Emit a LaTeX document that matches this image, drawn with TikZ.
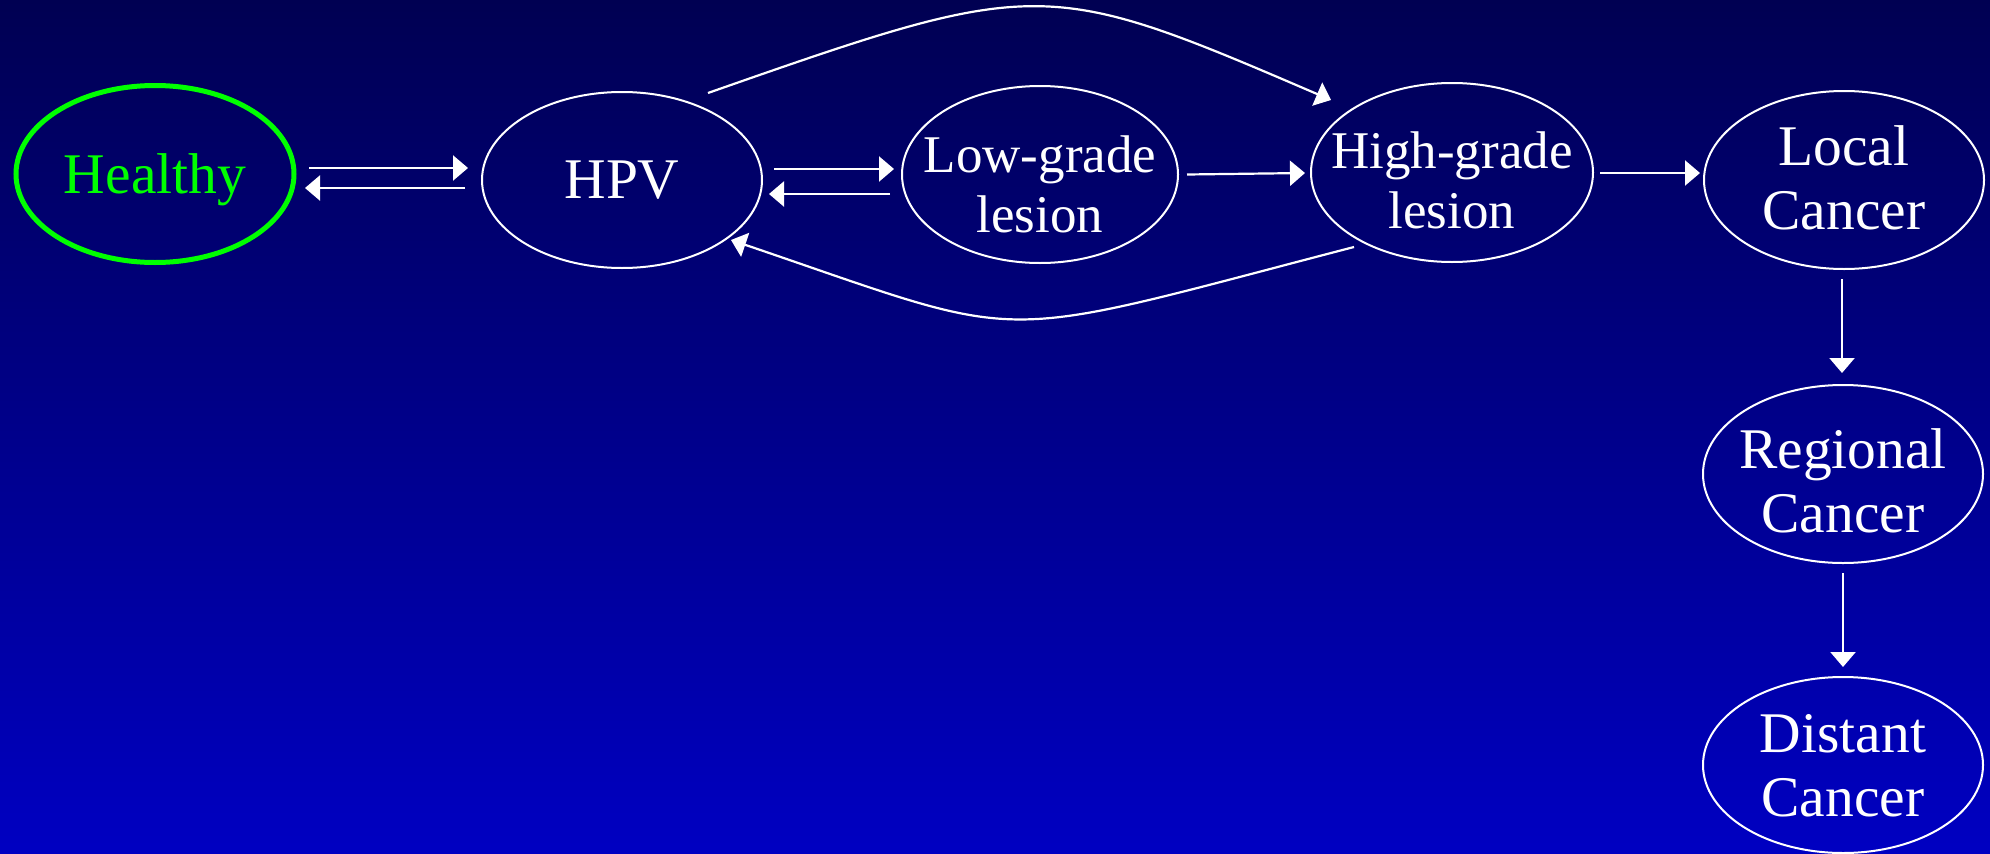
\documentclass[tikz,border=0pt]{standalone}
\usepackage{fontspec}
\setmainfont{Liberation Serif}
\usetikzlibrary{shapes.geometric,arrows.meta,calc}
\definecolor{bgtop}{RGB}{0,0,82}
\definecolor{bgmid}{RGB}{0,0,148}
\definecolor{bgbot}{RGB}{0,0,194}
\definecolor{hgreen}{RGB}{0,255,0}
\begin{document}
\begin{tikzpicture}[x=1pt,y=-1pt,
  state/.style={ellipse,draw=white,line width=2pt,inner sep=0pt,outer sep=0pt},
  bigtxt/.style={text=white,font=\fontsize{57.5}{64}\selectfont,align=center,inner sep=0pt},
  smalltxt/.style={text=white,font=\fontsize{53}{60}\selectfont,align=center,inner sep=0pt},
  arr/.style={draw=white,line width=2.2pt,-{Triangle[length=15pt,width=25pt]}},
]
\shade[top color=bgtop,middle color=bgmid,bottom color=bgbot] (0,0) rectangle (1990,854);
\useasboundingbox (0,0) rectangle (1990,854);

% states
\node[state,draw=hgreen,line width=5pt,minimum width=278pt,minimum height=177pt] (healthy) at (155,174) {};
\node[state,minimum width=280pt,minimum height=176pt] (hpv) at (622,180) {};
\node[state,minimum width=276pt,minimum height=177pt] (low) at (1040,174.5) {};
\node[state,minimum width=282pt,minimum height=179pt] (high) at (1452,172.5) {};
\node[state,minimum width=280pt,minimum height=178pt] (local) at (1844,180) {};
\node[state,minimum width=280pt,minimum height=178pt] (regional) at (1843,474) {};
\node[state,minimum width=280pt,minimum height=176pt] (distant) at (1843,765) {};

% labels
\node[bigtxt,text=hgreen] (healthyT) at (155,179.6) {Healthy};
\node[bigtxt] (hpvT) at (622,180) {HPV};
\node[smalltxt] (lowT) at (1040,184.4) {Low-grade\\lesion};
\node[smalltxt] (highT) at (1452,179.9) {High-grade\\lesion};
\node[bigtxt] (localT) at (1844,177.4) {Local\\Cancer};
\node[bigtxt] (regionalT) at (1843,480.4) {Regional\\Cancer};
\node[bigtxt] (distantT) at (1843,765.4) {Distant\\Cancer};

% straight connectors
\draw[arr] ([xshift=15pt,yshift=6pt]healthy.east) -- ([xshift=-14pt,yshift=12pt]hpv.west);
\draw[arr] ([xshift=-17pt,yshift=-8pt]hpv.west) -- ([xshift=11pt,yshift=-14pt]healthy.east);
\draw[arr] ([xshift=12pt,yshift=11pt]hpv.east) -- ([xshift=-8pt,yshift=5.5pt]low.west);
\draw[arr] ([xshift=-12pt,yshift=-19.5pt]low.west) -- ([xshift=7pt,yshift=-14pt]hpv.east);
\draw[arr] ([xshift=9pt]low.east) -- ([xshift=-6pt,yshift=-0.5pt]high.west);
\draw[arr] ([xshift=7pt,yshift=-0.5pt]high.east) -- ([xshift=-4pt,yshift=7pt]local.west);
\draw[arr] ([xshift=-2pt,yshift=-10pt]local.south) -- ([xshift=-1pt,yshift=12pt]regional.north);
\draw[arr] ([yshift=-10pt]regional.south) -- ([yshift=10pt]distant.north);

% curved connectors
\draw[arr] ([xshift=86pt,yshift=87pt]hpv.center) .. controls (1039,-23) and (1045,-23) .. ([xshift=-121pt,yshift=72.5pt]high.center);
\draw[arr] ([xshift=-98pt,yshift=-74.5pt]high.center) .. controls (981,344) and (1037,344) .. ([xshift=109pt,yshift=-60pt]hpv.center);
\end{tikzpicture}
\end{document}
